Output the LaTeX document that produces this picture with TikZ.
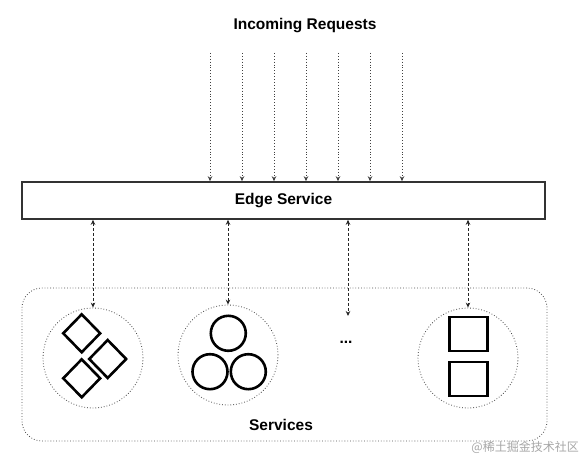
\documentclass[tikz,border=0pt]{standalone}
\usepackage{fontspec}
\setmainfont{Liberation Sans}
\newfontfamily\cjk{Noto Sans CJK SC}
\usetikzlibrary{arrows.meta,shapes.geometric}

\tikzset{
  lbl/.style={font=\fontsize{15.5}{18}\selectfont\bfseries, inner sep=0pt},
  reqline/.style={dotted, line width=0.9pt, black!75, -{Stealth[length=5pt,width=4.5pt]}},
  callline/.style={dash pattern=on 3pt off 2pt, line width=0.9pt, black!85,
    {Stealth[length=5pt,width=4.5pt]}-{Stealth[length=5pt,width=4.5pt]}},
  edgebox/.style={draw=black!80, line width=1.6pt, minimum width=523, minimum height=37, inner sep=0pt},
  groupbox/.style={draw=black!70, dotted, line width=0.8pt, rounded corners=20pt, minimum width=525, minimum height=153},
  svcring/.style={circle, draw=black!70, dotted, line width=0.8pt, minimum size=100, inner sep=0pt},
  icon/.style={draw=black, line width=2.6pt, inner sep=0pt}
}

\begin{document}
\begin{tikzpicture}[x=1pt, y=-1pt]
  \useasboundingbox (0,0) rectangle (582,460);
  % Title and edge service
  \node[lbl] (title) at (305,26) {Incoming Requests};
  \node[edgebox] (edge) at (283.5,200.5) {};
  \node[lbl] (edgelbl) at (283.5,200.5) {Edge Service};
  % Incoming requests
  \foreach \i/\x in {1/210, 2/242, 3/274, 4/306, 5/338, 6/370, 7/402} {
    \coordinate (in\i) at (\x,53);
    \draw[reqline] (in\i) -- (in\i |- edge.north);
  }
  % Services group
  \node[groupbox] (group) at (284.5,364.5) {};
  \node[lbl] (grouplbl) at (281,425) {Services};
  \node[svcring] (svc1) at (93,358) {};
  \node[svcring] (svc2) at (228,355) {};
  \node[svcring] (svc4) at (468,358) {};
  \node[lbl] (dots) at (346,342) {...};
  \coordinate (more) at (348,316);
  % Calls from edge service
  \draw[callline] (svc1.north |- edge.south) -- (svc1.north);
  \draw[callline] (svc2.north |- edge.south) -- (svc2.north);
  \draw[callline] (more |- edge.south) -- (more);
  \draw[callline] (svc4.north |- edge.south) -- (svc4.north);
  % Icons
  \node[icon, diamond, minimum width=38, minimum height=39] (dia1) at (81.7,333.3) {};
  \node[icon, diamond, minimum width=38, minimum height=39] (dia2) at (107.7,359) {};
  \node[icon, diamond, minimum width=38, minimum height=39] (dia3) at (81.7,378.3) {};
  \node[icon, circle, minimum size=35] (cir1) at (228.3,333.3) {};
  \node[icon, circle, minimum size=35] (cir2) at (210,371.7) {};
  \node[icon, circle, minimum size=35] (cir3) at (248.3,371.7) {};
  \node[icon, minimum width=38, minimum height=34] (sq1) at (468.5,334) {};
  \node[icon, minimum width=38, minimum height=34] (sq2) at (468.5,379) {};
  % Watermark
  \node[anchor=east, text=black!35, font=\cjk\fontsize{12}{14}\selectfont, inner sep=0pt] (mark) at (579,447) {@稀土掘金技术社区};
\end{tikzpicture}
\end{document}
